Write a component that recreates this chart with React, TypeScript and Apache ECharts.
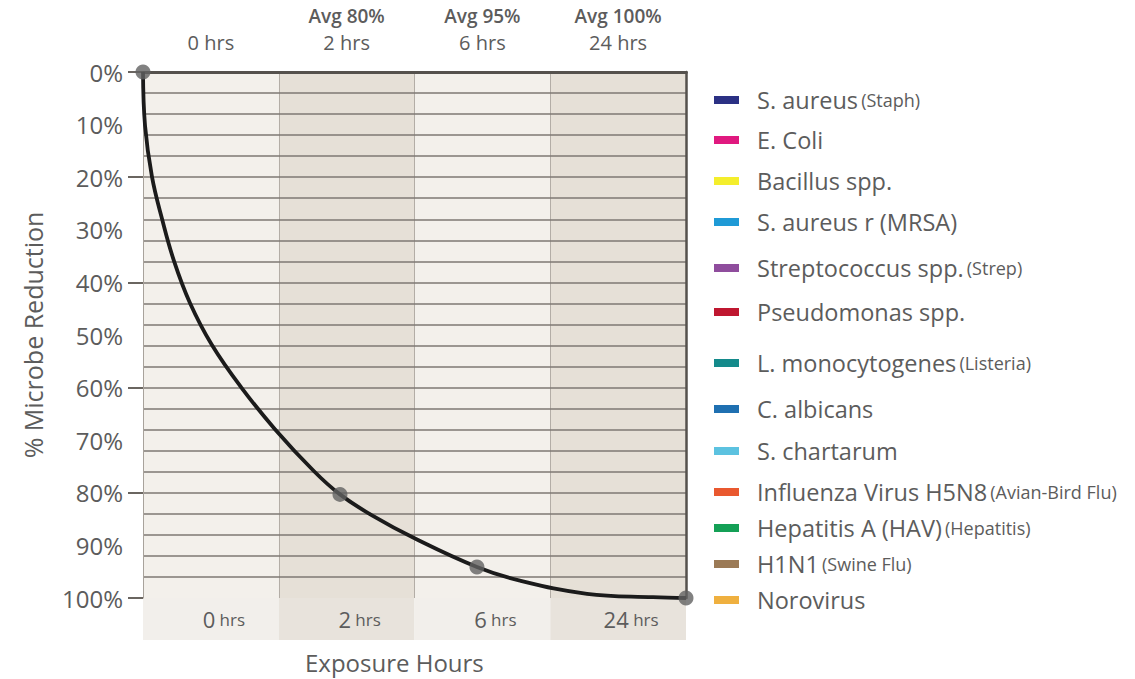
import React, { useEffect, useRef } from "react";
import * as echarts from "echarts";

// ---- data ----
const topHours = ["0 hrs", "2 hrs", "6 hrs", "24 hrs"];
const topAverages = ["", "Avg 80%", "Avg 95%", "Avg 100%"];
const bottomHours = ["0", "2", "6", "24"];

// curve (x in column units 0..4, y = % reduction)
const curveX = [0, 0.015, 0.066, 0.14, 0.228, 0.346, 0.508, 0.722, 0.972, 1.26, 1.451, 1.687, 2.004, 2.46, 2.777, 3.271, 3.757, 4];
const curveY = [0, 10.2, 19.9, 27.9, 35.9, 43.9, 51.9, 59.9, 67.9, 75.9, 80.3, 84.3, 88.7, 94.1, 96.7, 99.2, 99.85, 100];

// marked averages
const markerX = [0, 1.451, 2.46, 4];
const markerY = [0, 80.3, 94.1, 100];

// legend
const microbeNames = [
  "S. aureus", "E. Coli", "Bacillus spp.", "S. aureus r (MRSA)", "Streptococcus spp.",
  "Pseudomonas spp.", "L. monocytogenes", "C. albicans", "S. chartarum",
  "Influenza Virus H5N8", "Hepatitis A (HAV)", "H1N1", "Norovirus",
];
const microbeNotes = ["(Staph)", "", "", "", "(Strep)", "", "(Listeria)", "", "", "(Avian-Bird Flu)", "(Hepatitis)", "(Swine Flu)", ""];
const microbeColors = [
  "#2b3184", "#e0197f", "#f4ee2c", "#1f9ad6", "#8f4d9d", "#bf1730", "#148a8b",
  "#1f70b1", "#5cc2e0", "#e9582f", "#14a056", "#9b7a56", "#efb03f",
];
const legendRowY = [100, 140, 181, 222, 268, 312, 363, 409, 451, 492, 528, 564, 600];

const FONT = "'Open Sans', 'Noto Sans', sans-serif";
const TEXT = "#5c5c5c";

export default function App() {
  const ref = useRef<HTMLDivElement>(null);
  useEffect(() => {
    if (!ref.current) return;
    const chart = echarts.init(ref.current, undefined, { renderer: "svg" });

    const legendGraphics: any[] = [];
    microbeNames.forEach((name, i) => {
      legendGraphics.push({
        type: "rect",
        left: 714,
        top: legendRowY[i] - 4,
        shape: { width: 25, height: 8 },
        style: { fill: microbeColors[i] },
      });
      legendGraphics.push({
        type: "text",
        x: 757,
        y: legendRowY[i],
        style: {
          text: microbeNotes[i] ? `{m|${name}} {p|${microbeNotes[i]}}` : `{m|${name}}`,
          verticalAlign: "middle",
          fill: TEXT,
          fontFamily: FONT,
          rich: {
            m: { fontSize: 23.5, fill: TEXT, fontFamily: FONT },
            p: { fontSize: 18, fill: TEXT, fontFamily: FONT },
          },
        },
      });
    });

    const option: any = {
      animation: false,
      backgroundColor: "#ffffff",
      textStyle: { fontFamily: FONT },
      grid: [
        { left: 143, right: 449, top: 72, bottom: 81 },
        { left: 143, right: 449, top: 598, height: 42 },
      ],
      xAxis: [
        {
          type: "value", gridIndex: 0, min: 0, max: 4, interval: 1, z: -1, position: "bottom",
          axisLabel: { show: false }, axisTick: { show: false },
          axisLine: { show: true, lineStyle: { color: "#55514d", width: 3 } },
          splitLine: { show: true, lineStyle: { color: "#b3ada6", width: 1 } },
          splitArea: { show: true, areaStyle: { color: ["#f3f0eb", "#e6e0d7"] } },
        },
        {
          type: "category", gridIndex: 0, position: "bottom", data: bottomHours, boundaryGap: true, z: 3,
          axisLine: { show: false }, axisTick: { show: false },
          axisLabel: {
            margin: 10,
            formatter: (v: string) => `{n|${v}}{h| hrs}`,
            padding: [0, 0, 0, 26],
            rich: {
              n: { fontSize: 22, color: TEXT, fontFamily: FONT },
              h: { fontSize: 17, color: TEXT, fontFamily: FONT },
            },
          },
        },
        {
          type: "category", gridIndex: 0, position: "top", data: topHours, boundaryGap: true, z: 3,
          axisLine: { show: true, lineStyle: { color: "#55514d", width: 3 } },
          axisTick: { show: false },
          axisLabel: {
            margin: 16,
            formatter: (v: string, i: number) =>
              topAverages[i] ? `{a|${topAverages[i]}}\n{t|${v}}` : `{t|${v}}`,
            rich: {
              a: { fontSize: 19, fontWeight: 600, color: TEXT, fontFamily: FONT, lineHeight: 27 },
              t: { fontSize: 20, color: TEXT, fontFamily: FONT, lineHeight: 27 },
            },
          },
        },
        {
          type: "value", gridIndex: 1, min: 0, max: 4, interval: 1, z: -2,
          axisLabel: { show: false }, axisTick: { show: false }, axisLine: { show: false },
          splitLine: { show: false },
          splitArea: { show: true, areaStyle: { color: ["#f2efeb", "#e8e3dc"] } },
        },
      ],
      yAxis: [
        {
          type: "value", gridIndex: 0, position: "left", min: 0, max: 100, interval: 4, inverse: true, z: 1,
          axisLabel: { show: false }, axisTick: { show: false },
          axisLine: { show: true, lineStyle: { color: "#a8a29b", width: 1 } },
          splitLine: { show: true, showMinLine: false, showMaxLine: false, lineStyle: { color: "#7e7973", width: 1.6 } },
        },
        {
          type: "value", gridIndex: 0, position: "left", min: 0, max: 100, interval: 10, inverse: true,
          axisLine: { show: false }, axisTick: { show: false }, splitLine: { show: false },
          axisLabel: { formatter: "{value}%", fontSize: 24, color: TEXT, fontFamily: FONT, margin: 20 },
          name: "% Microbe Reduction",
          nameLocation: "middle",
          nameGap: 98,
          nameTextStyle: { fontSize: 25, color: TEXT, fontFamily: FONT },
        },
        {
          type: "value", gridIndex: 0, position: "left", min: 0, max: 100, interval: 20, inverse: true, z: 2,
          axisLine: { show: false }, splitLine: { show: false }, axisLabel: { show: false },
          axisTick: { show: true, length: 15, lineStyle: { color: "#6a6560", width: 2 } },
        },
        {
          type: "value", gridIndex: 0, min: 0, max: 100, inverse: true, position: "right", z: 2,
          axisLine: { show: true, lineStyle: { color: "#55514d", width: 2.5 } },
          axisTick: { show: false }, axisLabel: { show: false }, splitLine: { show: false },
        },
        {
          type: "value", gridIndex: 1, show: false, min: 0, max: 1,
        },
      ],
      graphic: [
        {
          type: "text",
          left: 305,
          top: 650,
          style: { text: "Exposure Hours", fontSize: 24, fill: TEXT, fontFamily: FONT },
        },
        ...legendGraphics,
      ],
      series: [
        {
          type: "line",
          xAxisIndex: 0,
          yAxisIndex: 0,
          data: curveX.map((x, i) => [x, curveY[i]]),
          smooth: 0.4,
          showSymbol: false,
          clip: false,
          lineStyle: { color: "#1b1b1b", width: 3.8 },
          z: 4,
        },
        {
          type: "scatter",
          xAxisIndex: 0,
          yAxisIndex: 0,
          data: markerX.map((x, i) => [x, markerY[i]]),
          symbolSize: 15,
          clip: false,
          itemStyle: { color: "#616161" },
          z: 5,
        },
      ],
    };
    chart.setOption(option);
    return () => chart.dispose();
  }, []);
  return (
    <div
      ref={ref}
      style={{ position: "absolute", left: 0, top: 0, width: 1135, height: 679, background: "#fff" }}
    />
  );
}
